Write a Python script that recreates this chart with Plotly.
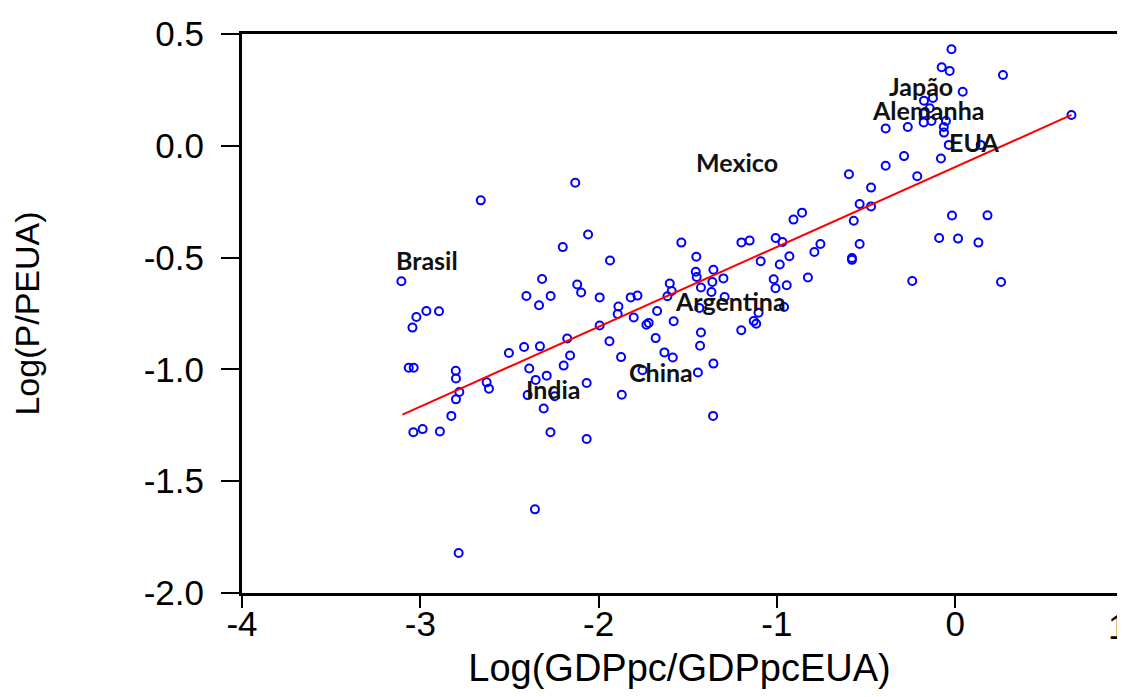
import plotly.graph_objects as go

# ---- data ----
gdp_x = [-3.106, -3.044, -3.022, -2.966, -2.895, -2.661, -2.131, -2.201, -2.317, -2.405,
         -2.269, -2.334, -2.120, -2.098, -2.503, -2.418, -2.329, -2.176, -2.160, -2.196,
         -3.065, -3.037, -2.389, -2.801, -2.800, -2.781, -2.800, -2.826, -3.039, -2.987,
         -2.890, -2.628, -2.615, -2.353, -2.291, -2.398, -2.246, -2.308, -2.270, -2.357,
         -2.785, -2.059, -1.936, -1.536, -1.199, -1.153, -1.452, -1.455, -1.450, -1.356,
         -1.300, -1.362, -1.091, -1.994, -1.820, -1.782, -1.601, -1.590, -1.614, -1.426,
         -1.367, -1.889, -1.893, -1.803, -1.672, -1.435, -1.293, -1.994, -1.732, -1.719,
         -1.579, -1.939, -1.680, -1.426, -1.431, -1.200, -1.130, -1.116, -1.103, -1.874,
         -1.631, -1.584, -1.356, -1.754, -1.443, -2.067, -1.870, -1.358, -2.067, -1.007,
         -0.969, -0.756, -0.536, -0.790, -0.930, -0.984, -0.579, -0.579, -0.090, -1.018,
         -0.826, -0.945, -1.008, -0.241, -0.960, -0.859, -0.907, -0.569, -0.536, -0.472,
         -0.472, -0.596, -0.390, -0.213, -0.018, 0.181, 0.016, 0.130, 0.257, -0.021,
         -0.076, -0.031, 0.268, 0.042, -0.175, -0.125, -0.143, -0.177, -0.177, -0.133,
         -0.052, -0.390, -0.266, -0.064, -0.063, -0.036, 0.143, 0.652, -0.287, -0.080]
ppp_y = [-0.606, -0.813, -0.766, -0.739, -0.740, -0.244, -0.165, -0.453, -0.596, -0.672,
         -0.672, -0.713, -0.620, -0.656, -0.927, -0.900, -0.897, -0.862, -0.938, -0.983,
         -0.993, -0.993, -0.996, -1.006, -1.041, -1.101, -1.134, -1.208, -1.281, -1.267,
         -1.278, -1.058, -1.086, -1.047, -1.028, -1.115, -1.120, -1.175, -1.281, -1.626,
         -1.821, -0.397, -0.513, -0.433, -0.432, -0.424, -0.496, -0.563, -0.587, -0.554,
         -0.593, -0.609, -0.516, -0.678, -0.678, -0.670, -0.616, -0.649, -0.673, -0.634,
         -0.654, -0.719, -0.752, -0.768, -0.739, -0.725, -0.676, -0.804, -0.800, -0.792,
         -0.785, -0.874, -0.860, -0.835, -0.894, -0.825, -0.784, -0.796, -0.747, -0.945,
         -0.924, -0.947, -0.974, -1.004, -1.014, -1.061, -1.113, -1.208, -1.311, -0.412,
         -0.430, -0.439, -0.439, -0.475, -0.494, -0.531, -0.502, -0.510, -0.412, -0.597,
         -0.589, -0.624, -0.637, -0.605, -0.721, -0.299, -0.330, -0.335, -0.260, -0.271,
         -0.187, -0.127, -0.089, -0.136, -0.312, -0.311, -0.415, -0.433, -0.609, 0.432,
         0.351, 0.335, 0.317, 0.242, 0.202, 0.214, 0.168, 0.145, 0.104, 0.111,
         0.111, 0.077, 0.084, 0.084, 0.059, 0.004, 0.004, 0.138, -0.046, -0.057]

fit_x = [-3.100, 0.652]
fit_y = [-1.202, 0.138]

label_names = ["Japão", "Alemanha", "EUA", "Mexico", "Brasil", "Argentina", "India", "China"]
label_x = [-0.193, -0.154, 0.104, -1.225, -2.964, -1.259, -2.251, -1.652]
label_y = [0.266, 0.159, 0.016, -0.074, -0.510, -0.695, -1.089, -1.013]

x_tick_vals = [-4, -3, -2, -1, 0, 1]
x_tick_text = ["-4", "-3", "-2", "-1", "0", "1"]
y_tick_vals = [0.5, 0.0, -0.5, -1.0, -1.5, -2.0]
y_tick_text = ["0.5", "0.0", "-0.5", "-1.0", "-1.5", "-2.0"]

x_range = [-4, 0.9074]
y_range = [-2.0, 0.5]

fig = go.Figure()
fig.add_trace(go.Scatter(
    x=gdp_x, y=ppp_y, mode="markers",
    marker=dict(symbol="circle-open", size=8, color="#0000FF", line=dict(width=2, color="#0000FF")),
    showlegend=False, hoverinfo="x+y"))
fig.add_trace(go.Scatter(
    x=fit_x, y=fit_y, mode="lines",
    line=dict(color="#FF0000", width=2),
    showlegend=False))

for name, lx, ly in zip(label_names, label_x, label_y):
    fig.add_annotation(x=lx, y=ly, xref="x", yref="y", text=name, showarrow=False,
                       xanchor="center", yanchor="middle",
                       font=dict(family="Lato", size=25, color="#111111", weight="bold"))

# tick label "1" sits at the clipped right edge of the frame
fig.add_annotation(x=1, y=0, xref="paper", yref="paper", text=x_tick_text[-1], showarrow=False,
                   xanchor="center", yanchor="top", yshift=-12,
                   font=dict(family="Liberation Sans", size=35, color="black"))

fig.update_layout(
    width=1109, height=681,
    margin=dict(l=234, r=0, t=26, b=96, autoexpand=False),
    paper_bgcolor="white", plot_bgcolor="white",
    font=dict(family="Liberation Sans", color="black"),
)
fig.update_xaxes(
    range=x_range, tickmode="array", tickvals=x_tick_vals, ticktext=x_tick_text,
    automargin=False,
    showgrid=False, zeroline=False, showline=True, linecolor="black", linewidth=3,
    mirror=True, ticks="outside", ticklen=12, tickwidth=1.5, tickcolor="black",
    tickfont=dict(size=35, family="Liberation Sans"), ticklabelstandoff=-14,
    title=dict(text="Log(GDPpc/GDPpcEUA)", font=dict(size=38, family="Liberation Sans"), standoff=21),
)
fig.update_yaxes(
    range=y_range, tickmode="array", tickvals=y_tick_vals, ticktext=y_tick_text,
    automargin=False,
    showgrid=False, zeroline=False, showline=True, linecolor="black", linewidth=3,
    mirror=False, ticks="outside", ticklen=18, tickwidth=1.5, tickcolor="black",
    tickfont=dict(size=35, family="Liberation Sans"), ticklabelstandoff=10,
    title=dict(text="Log(P/PEUA)", font=dict(size=34, family="Liberation Sans"), standoff=95),
)

fig.write_html("out.html")
